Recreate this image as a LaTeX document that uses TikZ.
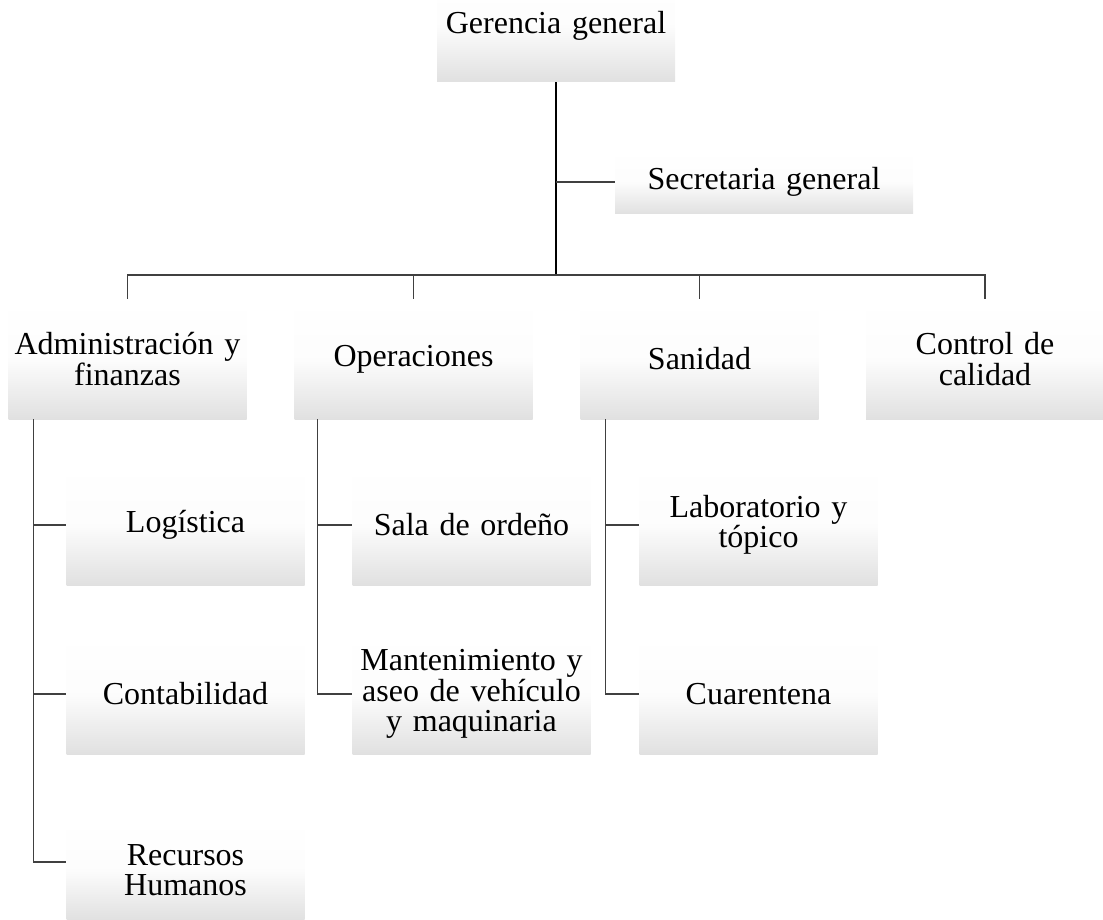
\documentclass[tikz,border=0pt]{standalone}
\usepackage{fontspec}
\setmainfont{Liberation Serif}
\begin{document}
\begin{tikzpicture}[x=1pt,y=-1pt,
  unidad/.style={minimum width=238pt, minimum height=120pt, inner sep=0pt,
    text width=236pt, align=center, font=\fontsize{32}{30.5}\selectfont,
    top color=white, bottom color=black!12, middle color=black!1},
  enlace/.style={draw=black!75, line width=1.3pt},
  tronco/.style={draw=black, line width=2pt}]
\useasboundingbox (0,0) rectangle (1103,920);
\node [unidad, minimum height=112pt] (ger) at (556,26) {Gerencia general};
\node [unidad, minimum width=298pt, text width=296pt, minimum height=64pt] (sec) at (764,182) {Secretaria general};
\node [unidad] (adm) at (127.5,359) {Administración y\\finanzas};
\node [unidad] (ope) at (413.5,359) {Operaciones};
\node [unidad] (san) at (699.5,359) {Sanidad};
\node [unidad] (cal) at (985,359) {Control de\\calidad};
\node [unidad] (log) at (185.5,525) {Logística};
\node [unidad] (cont) at (185.5,694) {Contabilidad};
\node [unidad, minimum height=100pt] (rrhh) at (185.5,870) {Recursos\\Humanos};
\node [unidad] (sal) at (471.5,525) {Sala de ordeño};
\node [unidad] (man) at (471.5,694) {Mantenimiento y\\aseo de vehículo\\y maquinaria};
\node [unidad] (lab) at (758.5,525) {Laboratorio y\\tópico};
\node [unidad] (cua) at (758.5,694) {Cuarentena};
\coordinate (barra) at (556,275);
\draw [tronco] (ger.south) -- (barra);
\draw [enlace] (sec.west) -- (sec.west -| ger.south);
\foreach \u in {adm,ope,san,cal}
  \draw [enlace] (\u.north) |- (barra);
\foreach \u in {log,cont}
  \draw [enlace] ([xshift=25pt]adm.south west) |- (\u.west);
\draw [enlace] ([xshift=25pt]adm.south west) |- ([yshift=8pt]rrhh.west);
\foreach \u in {sal,man}
  \draw [enlace] ([xshift=23pt]ope.south west) |- (\u.west);
\foreach \u in {lab,cua}
  \draw [enlace] ([xshift=25pt]san.south west) |- (\u.west);
\end{tikzpicture}
\end{document}
